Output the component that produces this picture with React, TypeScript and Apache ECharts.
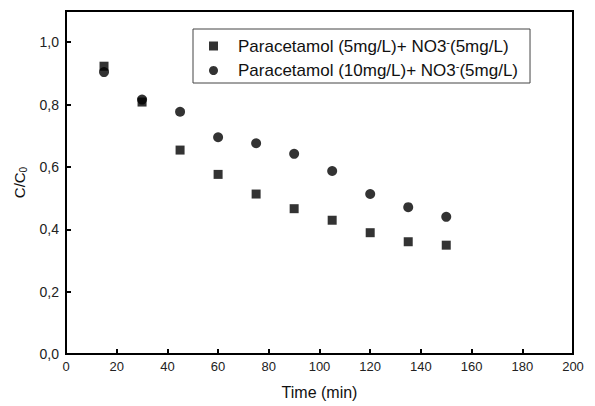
import React, { useEffect, useRef } from "react";
import * as echarts from "echarts";

const timeMin = [15, 30, 45, 60, 75, 90, 105, 120, 135, 150];
const seriesA = [0.923, 0.808, 0.654, 0.576, 0.513, 0.466, 0.429, 0.389, 0.36, 0.349];
const seriesB = [0.904, 0.816, 0.777, 0.695, 0.676, 0.642, 0.587, 0.513, 0.471, 0.44];
const nameA = "Paracetamol (5mg/L)+ NO3-(5mg/L)";
const nameB = "Paracetamol (10mg/L)+ NO3-(5mg/L)";

const FONT = "Liberation Sans, Arial, sans-serif";

export default function App() {
  const ref = useRef<HTMLDivElement>(null);
  useEffect(() => {
    if (!ref.current) return;
    const chart = echarts.init(ref.current, null, { renderer: "svg" });
    const axisCommon = {
      axisLine: { show: true, lineStyle: { color: "#000", width: 2 } },
      axisTick: { show: true, inside: true, length: 5, lineStyle: { color: "#000", width: 2 } },
      splitLine: { show: false },
    };
    chart.setOption({
      animation: false,
      backgroundColor: "#fff",
      grid: {
        left: 66,
        right: 22,
        top: 11,
        bottom: 52,
        show: true,
        borderColor: "#000",
        borderWidth: 2,
        backgroundColor: "transparent",
      },
      legend: {
        orient: "vertical",
        left: 193,
        top: 29,
        backgroundColor: "#fff",
        borderColor: "#444",
        borderWidth: 1,
        borderRadius: 0,
        padding: [7, 12, 4, 16],
        itemGap: 6,
        itemWidth: 9,
        itemHeight: 9,
        data: [
          { name: nameA, icon: "rect" },
          { name: nameB, icon: "circle" },
        ],
        formatter: (n: string) => n.replace("NO3-", "NO3{sup|-}"),
        textStyle: {
          fontFamily: FONT,
          fontSize: 17,
          color: "#111",
          padding: [0, 0, 0, 15],
          rich: {
            sup: { fontFamily: FONT, fontSize: 11, color: "#111", padding: [0, 0, 9, 0] },
          },
        },
      },
      xAxis: {
        type: "value",
        min: 0,
        max: 200,
        interval: 20,
        name: "Time (min)",
        nameLocation: "middle",
        nameGap: 30,
        nameTextStyle: { fontFamily: FONT, fontSize: 16, color: "#111" },
        axisLabel: { fontFamily: FONT, fontSize: 13, color: "#222", margin: 6 },
        ...axisCommon,
      },
      yAxis: {
        type: "value",
        min: 0,
        max: 1.1,
        interval: 0.2,
        name: "C/C{sub|0}",
        nameLocation: "middle",
        nameRotate: 90,
        nameGap: 38,
        nameTextStyle: {
          fontFamily: FONT,
          fontSize: 15,
          color: "#111",
          rich: { sub: { fontFamily: FONT, fontSize: 10, color: "#111", padding: [8, 0, 0, 0] } },
        },
        axisLabel: {
          fontFamily: FONT,
          fontSize: 14,
          color: "#222",
          margin: 7,
          showMaxLabel: false,
          formatter: (v: number) => (v > 1.01 ? "" : v.toFixed(1).replace(".", ",")),
        },
        ...axisCommon,
      },
      series: [
        {
          name: nameA,
          type: "scatter",
          symbol: "rect",
          symbolSize: 9,
          itemStyle: { color: "#000" },
          data: timeMin.map((t, i) => [t, seriesA[i]]),
          z: 3,
        },
        {
          name: nameB,
          type: "scatter",
          symbol: "circle",
          symbolSize: 10,
          itemStyle: { color: "#000" },
          data: timeMin.map((t, i) => [t, seriesB[i]]),
          z: 2,
        },
      ],
    });
    return () => chart.dispose();
  }, []);
  return <div ref={ref} style={{ width: 595, height: 406, position: "absolute", left: 0, top: 0 }} />;
}
